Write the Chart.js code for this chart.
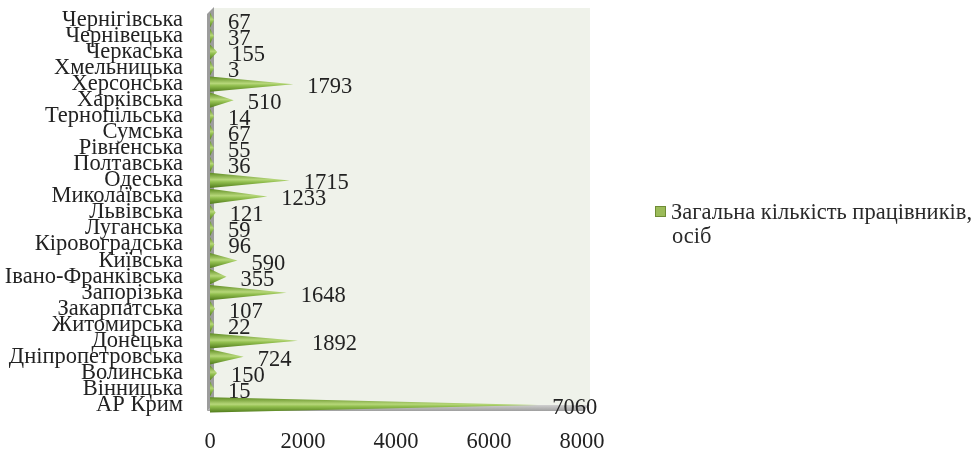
<!DOCTYPE html>
<html lang="uk">

<head>
  <meta charset="UTF-8">
  <title>Загальна кількість працівників</title>
  <style>
    body {
      margin: 0;
      background: #ffffff;
      font-family: "Liberation Serif", "DejaVu Serif", serif;
    }

    .wrap {
      position: relative;
      width: 977px;
      height: 453px;
    }

    .legend {
      position: absolute;
      left: 655px;
      top: 200px;
      font-size: 22.5px;
      line-height: 24px;
      color: #2a2a2a;
      white-space: nowrap;
    }

    .legend .box {
      display: inline-block;
      width: 9px;
      height: 9px;
      background: #9bbb59;
      border: 1px solid #6f8c35;
      margin-right: 5px;
      vertical-align: 2px;
    }

    .legend .second {
      padding-left: 17px;
    }
  </style>
  <script src="https://cdn.jsdelivr.net/npm/chart.js"></script>
</head>

<body>
  <div class="wrap">
    <canvas id="chart" width="977" height="453"></canvas>
    <div class="legend">
      <div><span class="box"></span>Загальна кількість працівників,</div>
      <div class="second">осіб</div>
    </div>
  </div>

  <script>
    // regions, top to bottom as in the picture
    const regions = [
      'Чернігівська', 'Чернівецька', 'Черкаська', 'Хмельницька', 'Херсонська',
      'Харківська', 'Тернопільська', 'Сумська', 'Рівненська', 'Полтавська',
      'Одеська', 'Миколаївська', 'Львівська', 'Луганська', 'Кіровоградська',
      'Київська', 'Івано-Франківська', 'Запорізька', 'Закарпатська', 'Житомирська',
      'Донецька', 'Дніпропетровська', 'Волинська', 'Вінницька', 'АР Крим'
    ];
    const workers = [
      67, 37, 155, 3, 1793,
      510, 14, 67, 55, 36,
      1715, 1233, 121, 59, 96,
      590, 355, 1648, 107, 22,
      1892, 724, 150, 15, 7060
    ];
    const xTicks = [0, 2000, 4000, 6000, 8000];
    const seriesName = 'Загальна кількість працівників, осіб';

    const serif = '"Liberation Serif", "DejaVu Serif", serif';

    // wall + floor behind the bars
    const backdrop = {
      id: 'backdrop',
      beforeDatasetsDraw(chart) {
        const { ctx, chartArea: a } = chart;
        ctx.save();
        ctx.fillStyle = '#eff2ea';
        ctx.beginPath();
        ctx.moveTo(a.left + 4, a.top - 4);
        ctx.lineTo(a.right + 8, a.top - 4);
        ctx.lineTo(a.right + 8, a.bottom - 8);
        ctx.lineTo(a.left + 4, a.bottom - 8);
        ctx.closePath();
        ctx.fill();
        // left wall
        ctx.fillStyle = '#9c9c9c';
        ctx.beginPath();
        ctx.moveTo(a.left - 3, a.top + 2);
        ctx.lineTo(a.left + 4, a.top - 5);
        ctx.lineTo(a.left + 4, a.bottom - 8);
        ctx.lineTo(a.left - 3, a.bottom - 2);
        ctx.closePath();
        ctx.fill();
        // floor
        const g = ctx.createLinearGradient(0, a.bottom - 8, 0, a.bottom);
        g.addColorStop(0, '#d0d0d0');
        g.addColorStop(1, '#8e8e8e');
        ctx.fillStyle = g;
        ctx.beginPath();
        ctx.moveTo(a.left - 3, a.bottom - 2);
        ctx.lineTo(a.left + 4, a.bottom - 8);
        ctx.lineTo(a.right + 8, a.bottom - 8);
        ctx.lineTo(a.right + 1, a.bottom - 2);
        ctx.closePath();
        ctx.fill();
        ctx.restore();
      }
    };

    // draw each bar as a flat cone, plus the value label
    const cones = {
      id: 'cones',
      afterDatasetsDraw(chart) {
        const { ctx } = chart;
        const meta = chart.getDatasetMeta(0);
        ctx.save();
        meta.data.forEach((bar, i) => {
          const h = bar.height;
          const top = bar.y - h / 2;
          const g = ctx.createLinearGradient(0, top, 0, top + h);
          g.addColorStop(0, '#5f8c22');
          g.addColorStop(0.45, '#b6d779');
          g.addColorStop(0.6, '#92bf4f');
          g.addColorStop(1, '#4f7a1a');
          ctx.fillStyle = g;
          ctx.beginPath();
          ctx.moveTo(bar.base, top);
          ctx.lineTo(Math.max(bar.x, bar.base + 4), bar.y);
          ctx.lineTo(bar.base, top + h);
          ctx.closePath();
          ctx.fill();

          ctx.fillStyle = '#222';
          ctx.font = '22.5px ' + serif;
          ctx.textBaseline = 'middle';
          ctx.fillText(workers[i], Math.max(bar.x, bar.base + 4) + 14, bar.y + 3);
        });
        ctx.restore();
      }
    };

    new Chart(document.getElementById('chart'), {
      type: 'bar',
      data: {
        labels: regions,
        datasets: [{
          label: seriesName,
          data: workers,
          backgroundColor: 'rgba(0,0,0,0)',
          borderWidth: 0,
          categoryPercentage: 0.95,
          barPercentage: 1
        }]
      },
      options: {
        indexAxis: 'y',
        responsive: false,
        animation: false,
        layout: { padding: { left: 0, right: 395, top: 12, bottom: 0 } },
        plugins: {
          legend: { display: false },
          tooltip: { enabled: false }
        },
        scales: {
          x: {
            min: 0,
            max: 8000,
            afterBuildTicks: (s) => { s.ticks = xTicks.map(v => ({ value: v })); },
            afterFit: (s) => { s.height = 40; s.paddingLeft = 0; s.paddingRight = 0; },
            grid: { display: false },
            border: { display: false },
            ticks: {
              color: '#222',
              padding: 8,
              font: { family: serif, size: 22.5 },
              callback: (v) => String(v)
            }
          },
          y: {
            afterFit: (s) => { s.width = 210; s.paddingTop = 0; s.paddingBottom = 0; },
            grid: { display: false },
            border: { display: false },
            ticks: {
              autoSkip: false,
              color: '#222',
              padding: 19,
              font: { family: serif, size: 22.5 }
            }
          }
        }
      },
      plugins: [backdrop, cones]
    });
  </script>
</body>

</html>
